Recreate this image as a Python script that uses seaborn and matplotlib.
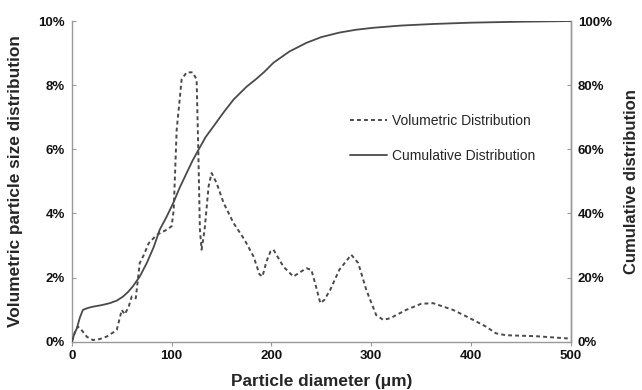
import matplotlib
matplotlib.use("Agg")
import matplotlib.pyplot as plt
import seaborn as sns
import pandas as pd
from matplotlib.ticker import FuncFormatter

vol_x = [0, 3, 6, 10, 15, 21, 28, 35, 42, 45, 50, 53, 57, 60, 64, 68, 72, 77, 85, 95, 100,
         102, 105, 110, 115, 121, 125, 126.6, 128.3, 130, 133, 137, 140, 145, 152, 162, 173,
         182, 188, 191, 195, 199, 202, 212, 222, 235, 240, 244, 249, 253, 259, 268, 280, 287,
         295, 305, 312, 319, 335, 350, 362, 382, 399, 415, 425, 435, 465, 497]
vol_y = [0, 0.3, 0.47, 0.35, 0.15, 0.05, 0.08, 0.16, 0.3, 0.37, 0.99, 0.85, 1.1, 1.41, 1.35,
         2.45, 2.7, 3.07, 3.33, 3.49, 3.6, 4.1, 6.6, 8.18, 8.4, 8.4, 8.18, 6.1, 3.49, 2.87,
         3.49, 4.84, 5.26, 4.95, 4.33, 3.7, 3.18, 2.66, 2.1, 2.03, 2.5, 2.81, 2.87, 2.34, 2.03,
         2.29, 2.24, 1.8, 1.2, 1.3, 1.62, 2.24, 2.71, 2.45, 1.62, 0.83, 0.68, 0.73, 0.99, 1.18,
         1.2, 0.99, 0.73, 0.47, 0.26, 0.2, 0.17, 0.1]

cum_x = [0, 2, 5, 8, 11, 16, 21, 30, 38, 45, 51, 56, 61, 68, 75, 82, 88, 95, 101.5, 108, 115,
         121, 127, 134, 142, 152, 162, 175, 185, 193, 202, 218, 235, 250, 268, 285, 302, 330,
         363, 400, 450, 500]
cum_y = [0, 2, 4.2, 7.5, 9.9, 10.5, 10.9, 11.4, 12, 12.8, 14, 15.4, 17.2, 20.3, 24.5, 29.5,
         34.9, 39, 43.2, 48, 52.6, 56.5, 59.9, 63.8, 67.2, 71.5, 75.5, 79.5, 82, 84.2, 87, 90.5,
         93.2, 95, 96.4, 97.3, 97.9, 98.6, 99.1, 99.5, 99.8, 100]

left_ticks = [0, 2, 4, 6, 8, 10]
right_ticks = [0, 20, 40, 60, 80, 100]
x_ticks = [0, 100, 200, 300, 400, 500]

sns.set_style("white")
plt.rcParams['font.family'] = ['Liberation Sans', 'DejaVu Sans']

fig = plt.figure(figsize=(6.42, 3.90), dpi=100)
ax = fig.add_axes([0.112, 0.124, 0.777, 0.822])
ax2 = ax.twinx()

vol = pd.DataFrame({"x": vol_x, "y": vol_y})
cum = pd.DataFrame({"x": cum_x, "y": cum_y})

sns.lineplot(data=vol, x="x", y="y", ax=ax, color="#4a4a4a", lw=1.4,
             linestyle=(0, (2.0, 1.6)), label="Volumetric Distribution", legend=False)
sns.lineplot(data=cum, x="x", y="y", ax=ax2, color="#4a4a4a", lw=1.3,
             label="Cumulative Distribution", legend=False)

ax.set_xlim(0, 500)
ax.set_ylim(0, 10)
ax2.set_ylim(0, 100)
ax.set_xticks(x_ticks)
ax.set_yticks(left_ticks)
ax2.set_yticks(right_ticks)
ax.yaxis.set_major_formatter(FuncFormatter(lambda v, p: f"{v:.0f}%"))
ax2.yaxis.set_major_formatter(FuncFormatter(lambda v, p: f"{v:.0f}%"))

for a in (ax, ax2):
    for s in a.spines.values():
        s.set_color("#999999")
        s.set_linewidth(1.0)
    a.spines["top"].set_visible(False)
    a.tick_params(labelsize=9.5, colors="#999999", labelcolor="#111111", length=3, width=0.8)
    for lab in a.get_xticklabels() + a.get_yticklabels():
        lab.set_fontweight("bold")
ax.tick_params(axis="y", direction="in", pad=5)
ax2.tick_params(axis="y", direction="in", pad=5)
ax.tick_params(axis="x", direction="out", pad=3, bottom=True)
ax2.spines["left"].set_visible(False)
ax2.spines["bottom"].set_visible(False)

ax.set_xlabel("Particle diameter (μm)", fontsize=12.4, fontweight="bold")
ax.set_ylabel("Volumetric particle size distribution", fontsize=12.4, fontweight="bold")
ax2.set_ylabel("Cumulative distribution", fontsize=12, fontweight="bold",
               va="center", rotation=90)
ax.xaxis.set_label_coords(0.5, -0.10)
ax.yaxis.set_label_coords(-0.098, 0.5)
ax2.yaxis.set_label_coords(1.122, 0.5)

h1, l1 = ax.get_legend_handles_labels()
h2, l2 = ax2.get_legend_handles_labels()
ax.legend(h1 + h2, l1 + l2, loc="upper left", bbox_to_anchor=(0.532, 0.75), frameon=False,
          fontsize=10, handlelength=2.65, labelspacing=1.5, handletextpad=0.36)

fig.savefig("out.png", dpi=100)
